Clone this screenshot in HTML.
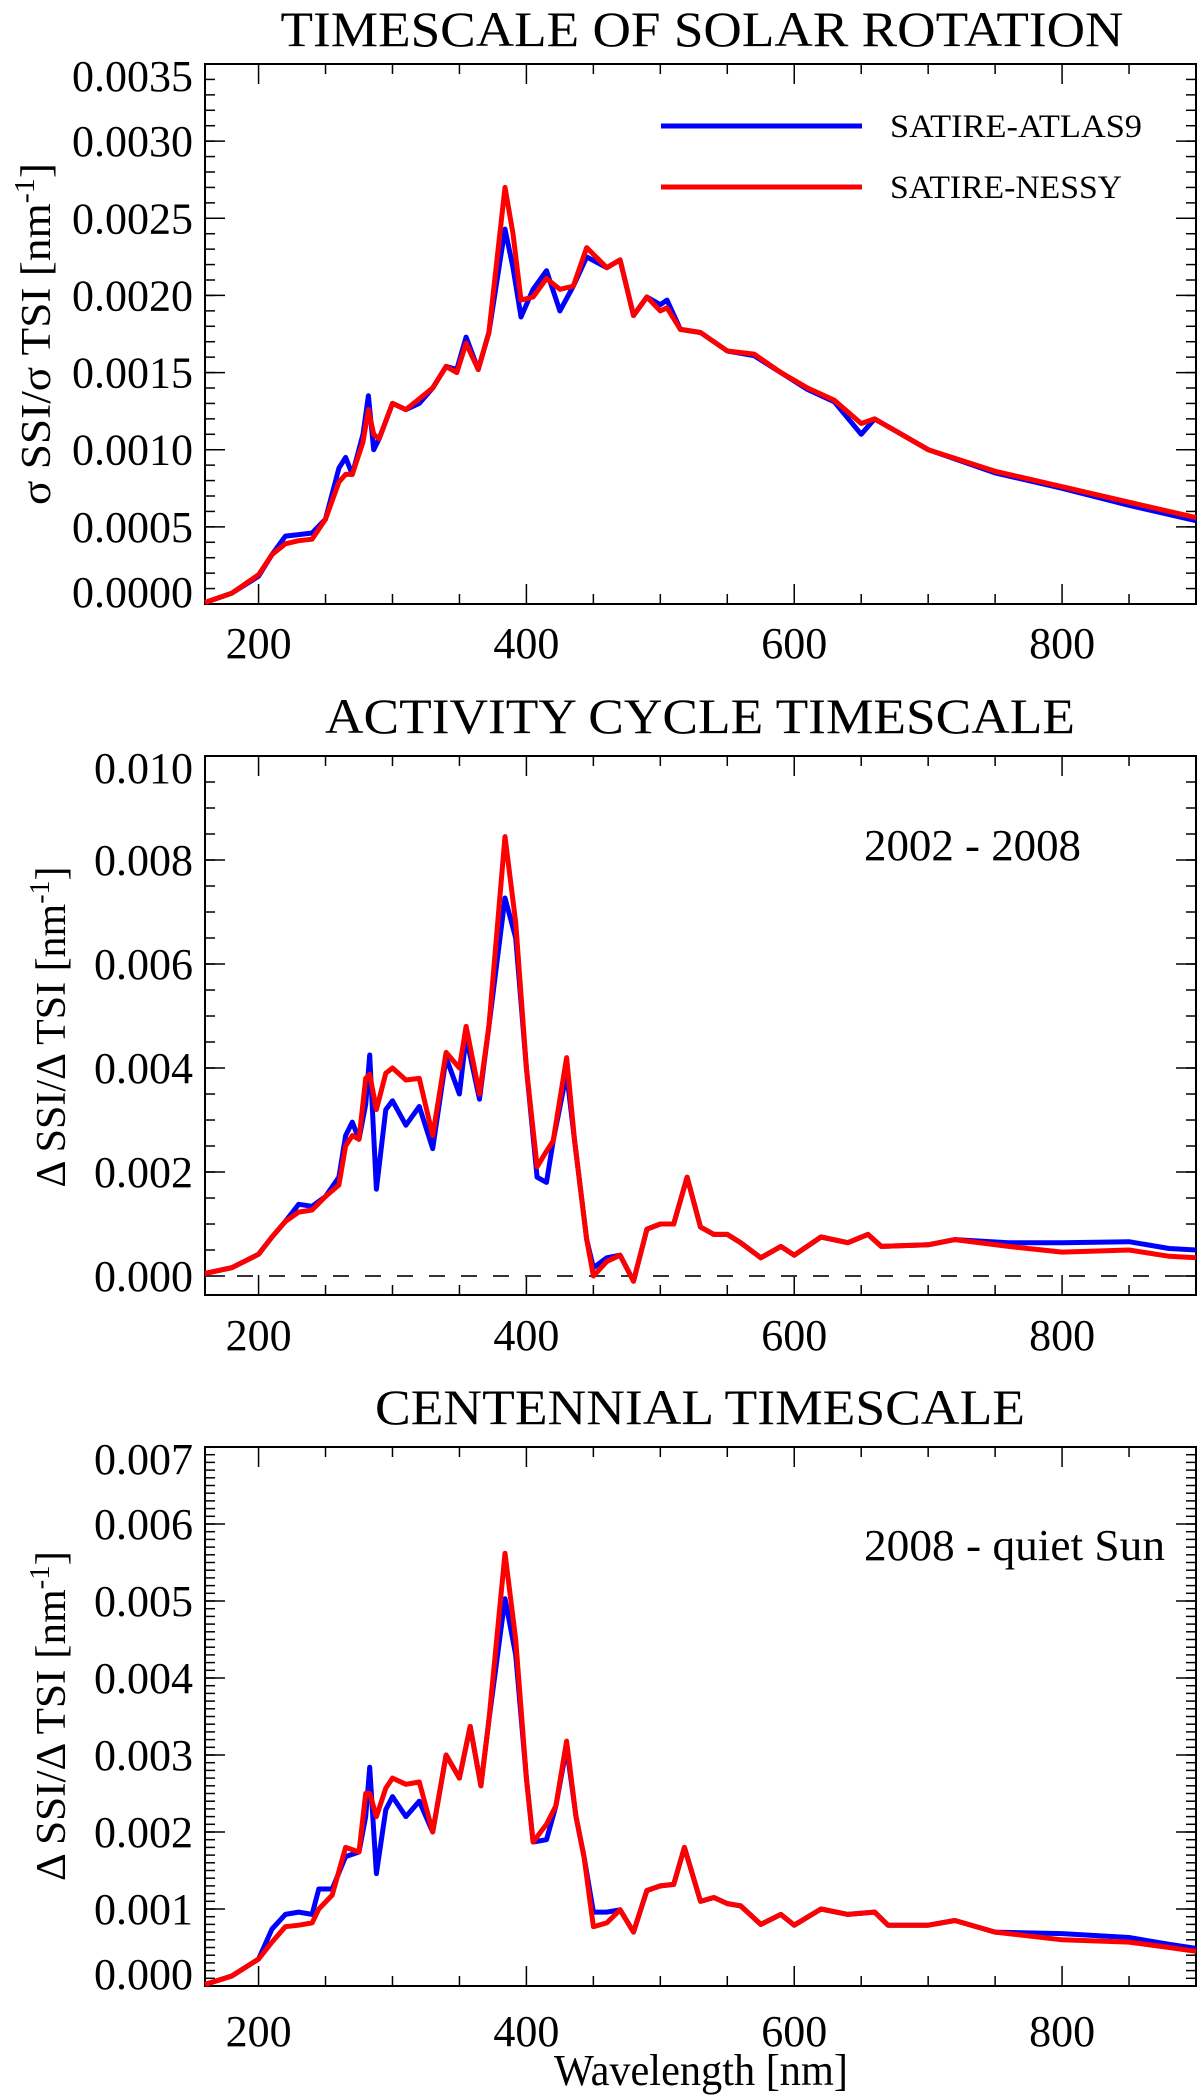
<!DOCTYPE html>
<html><head><meta charset="utf-8">
<style>
html,body{margin:0;padding:0;background:#fff;}
svg{display:block;}
text{font-family:"Liberation Serif","DejaVu Serif",serif;fill:#000;}
</style></head>
<body>
<svg id="fig" width="1200" height="2099" viewBox="0 0 1200 2099" xmlns="http://www.w3.org/2000/svg">
  <text x="702" y="46" font-size="50" text-anchor="middle" textLength="843" lengthAdjust="spacingAndGlyphs">TIMESCALE OF SOLAR ROTATION</text>
  <text x="700" y="733" font-size="50" text-anchor="middle" textLength="750" lengthAdjust="spacingAndGlyphs">ACTIVITY CYCLE TIMESCALE</text>
  <text x="700" y="1424" font-size="50" text-anchor="middle" textLength="650" lengthAdjust="spacingAndGlyphs">CENTENNIAL TIMESCALE</text>

  <text transform="translate(50,334) rotate(-90)" font-size="42" text-anchor="middle" textLength="342" lengthAdjust="spacingAndGlyphs">σ SSI/σ TSI [nm<tspan dy="-16" font-size="28">-1</tspan><tspan dy="16">]</tspan></text>
  <text transform="translate(65,1027) rotate(-90)" font-size="42" text-anchor="middle" textLength="321" lengthAdjust="spacingAndGlyphs">Δ SSI/Δ TSI [nm<tspan dy="-16" font-size="28">-1</tspan><tspan dy="16">]</tspan></text>
  <text transform="translate(65,1716) rotate(-90)" font-size="42" text-anchor="middle" textLength="330" lengthAdjust="spacingAndGlyphs">Δ SSI/Δ TSI [nm<tspan dy="-16" font-size="28">-1</tspan><tspan dy="16">]</tspan></text>

  <line x1="661" y1="126" x2="862" y2="126" stroke="#0000ff" stroke-width="5"/>
  <line x1="661" y1="187" x2="862" y2="187" stroke="#ff0000" stroke-width="5"/>
  <text x="890" y="137" font-size="33" textLength="252" lengthAdjust="spacingAndGlyphs">SATIRE-ATLAS9</text>
  <text x="890" y="198" font-size="33" textLength="232" lengthAdjust="spacingAndGlyphs">SATIRE-NESSY</text>

  <text x="864" y="860" font-size="44" textLength="217" lengthAdjust="spacingAndGlyphs">2002 - 2008</text>
  <text x="864" y="1560" font-size="44" textLength="301" lengthAdjust="spacingAndGlyphs">2008 - quiet Sun</text>

  <text x="701" y="2085" font-size="44" text-anchor="middle" textLength="294" lengthAdjust="spacingAndGlyphs">Wavelength [nm]</text>
  <g id="plots"></g>
</svg>
<script>
// Wavelength grids (nm) and series values (units of 1e-4 nm^-1)
const wl1 = [160,180,200,210,220,230,240,250,260,265,270,278,282,286,290,300,310,320,330,340,348,355,364,372,384,390,396,405,415,425,435,445,460,470,480,490,500,505,515,530,550,570,590,610,630,650,660,700,750,800,850,900];
const atlas1 = [0.1,0.7,1.8,3.2,4.4,4.5,4.6,5.5,8.8,9.5,8.4,11,13.5,10,10.7,13,12.6,13.0,14,15.4,15.2,17.3,15.2,17.6,24.3,21.8,18.6,20.4,21.6,19.0,20.6,22.5,21.8,22.3,18.7,19.9,19.4,19.7,17.8,17.6,16.4,16.1,15.0,13.9,13.1,11.0,12.0,10.0,8.5,7.5,6.4,5.4];
const nessy1 = [0.1,0.7,1.9,3.2,3.9,4.1,4.2,5.5,7.9,8.4,8.4,10.5,12.6,11,10.7,13,12.6,13.3,14,15.4,15,16.9,15.2,17.6,27,24,19.7,19.9,21.1,20.4,20.6,23.1,21.8,22.3,18.7,19.9,19.0,19.2,17.8,17.6,16.4,16.2,15.0,14.0,13.2,11.7,12.0,10.0,8.6,7.6,6.6,5.6];

const wl2 = [160,180,200,210,220,230,240,250,260,265,270,275,280,283,288,295,300,310,320,330,340,350,355,365,372,384,392,400,408,415,420,430,436,445,450,460,470,480,490,500,510,520,530,540,550,560,575,590,600,620,640,655,665,700,720,760,800,850,880,900];
const atlas2 = [0.5,1.6,4.2,7.5,10.5,13.8,13.4,15.3,19,27,29.6,26.3,33,42.5,16.7,32,33.7,29,32.6,24.5,42,35,46,34,48,72.7,65,40,19,18,26,39,26,7,1.6,3.5,4,-1,9,10,10,19,9.4,8,8,6.4,3.5,5.7,4,7.5,6.4,8,5.7,6,7,6.4,6.4,6.6,5.3,5];
const nessy2 = [0.5,1.6,4.2,7.5,10.5,12.3,12.7,15.3,17.5,25,27,26.3,38,38.8,32,39,40,37.7,38,27,43,40,48,35,48,84.5,68,40,21,24,26,42,26,7,0,2.8,4,-1,9,10,10,19,9.4,8,8,6.4,3.5,5.7,4,7.5,6.4,8,5.7,6,7,5.7,4.6,5,3.8,3.5];

const wl3 = [160,180,200,210,220,230,240,245,255,265,275,280,283,288,295,300,310,320,330,340,350,358,366,372,384,392,400,405,415,422,430,437,443,450,460,470,480,490,500,510,518,530,540,550,560,575,590,600,620,640,660,670,700,720,750,800,850,880,900];
const atlas3 = [0.2,1.3,3.5,7.4,9.3,9.6,9.3,12.6,12.6,16.8,17.4,22,28.4,14.6,22.9,24.6,22,24,20,30,27,33.7,26,34.5,50.3,43,27,18.7,19,23.4,31,22,16.8,9.6,9.6,9.9,7,12.4,13,13.2,18,11,11.5,10.7,10.4,8,9.3,7.9,10,9.3,9.6,7.9,7.9,8.5,7,6.8,6.3,5.4,4.9];
const nessy3 = [0.2,1.3,3.5,5.7,7.7,7.9,8.2,10,11.8,18,17.4,25,25,22,25.7,27,26.2,26.5,20,30,27,33.7,26,34.5,56.2,45,27,18.7,21,23.4,31.8,22,16.8,7.7,8.2,9.9,7,12.4,13,13.2,18,11,11.5,10.7,10.4,8,9.3,7.9,10,9.3,9.6,7.9,7.9,8.5,7,6,5.7,5,4.5];

const xTickValues = [200,400,600,800];
const yTicks1 = [0,5,10,15,20,25,30,35];
const yLabels1 = ["0.0000","0.0005","0.0010","0.0015","0.0020","0.0025","0.0030","0.0035"];
const yTicks2 = [0,20,40,60,80,100];
const yLabels2 = ["0.000","0.002","0.004","0.006","0.008","0.010"];
const yTicks3 = [0,10,20,30,40,50,60,70];
const yLabels3 = ["0.000","0.001","0.002","0.003","0.004","0.005","0.006","0.007"];

const NS = "http://www.w3.org/2000/svg";
const root = document.getElementById('plots');
const X0 = 205, X1 = 1196, WMIN = 160, WMAX = 900;
function xs(w){ return X0 + (w - WMIN) * (X1 - X0) / (WMAX - WMIN); }

function mk(tag, attrs, parent){
  const e = document.createElementNS(NS, tag);
  for (const k in attrs) e.setAttribute(k, attrs[k]);
  (parent || root).appendChild(e);
  return e;
}

function panel(id, top, bottom, ymin, ymax, minorStep, majorTicks, majorLabels, series, zeroLine, labelX){
  const g = mk('g', {});
  
  
  const ys = v => bottom - (v - ymin) * (bottom - top) / (ymax - ymin);
  const fr = mk('rect', {x:X0, y:top, width:X1-X0, height:bottom-top, fill:'none', stroke:'#000', 'stroke-width':2}, g);
  
  
  for (let w = 200; w <= 900; w += 50){
    const x = xs(w), L = (w % 200 === 0) ? 20 : 10;
    mk('line', {x1:x, y1:bottom, x2:x, y2:bottom-L, stroke:'#000', 'stroke-width':1.5}, g);
    mk('line', {x1:x, y1:top, x2:x, y2:top+L, stroke:'#000', 'stroke-width':1.5}, g);
  }
  const start = Math.ceil(ymin / minorStep) * minorStep;
  for (let v = start; v <= ymax + 1e-9; v += minorStep){
    const y = ys(v);
    mk('line', {x1:X0, y1:y, x2:X0+10, y2:y, stroke:'#000', 'stroke-width':1.5}, g);
    mk('line', {x1:X1, y1:y, x2:X1-10, y2:y, stroke:'#000', 'stroke-width':1.5}, g);
  }
  majorTicks.forEach((v, i) => {
    const y = ys(v);
    mk('line', {x1:X0, y1:y, x2:X0+20, y2:y, stroke:'#000', 'stroke-width':1.5}, g);
    mk('line', {x1:X1, y1:y, x2:X1-20, y2:y, stroke:'#000', 'stroke-width':1.5}, g);
    let ly = y + 15;
    if (Math.abs(y - bottom) < 3) ly -= 12;
    if (Math.abs(y - top) < 3) ly += 12;
    const t = mk('text', {x:193, y:ly, 'font-size':44, 'text-anchor':'end'}, g);
    t.textContent = majorLabels[i];
    
    
  });
  xTickValues.forEach(w => {
    const t = mk('text', {x:xs(w), y:labelX, 'font-size':44, 'text-anchor':'middle'}, g);
    t.textContent = String(w);
    
    
  });
  if (zeroLine){
    const z = mk('line', {x1:X0, y1:ys(0), x2:X1, y2:ys(0), stroke:'#333', 'stroke-width':2, 'stroke-dasharray':'16,16'}, g);
    
    
  }
  series.forEach(s => {
    const d = s.wl.map((w, i) => (i ? 'L' : 'M') + xs(w).toFixed(1) + ',' + ys(s.v[i]).toFixed(1)).join(' ');
    const p = mk('path', {d:d, fill:'none', stroke:s.color, 'stroke-width':5, 'stroke-linejoin':'round'}, g);
    
    
  });
}

panel('rotation', 64, 604, 0, 35, 1, yTicks1, yLabels1,
  [{wl:wl1, v:atlas1, color:'#0000ff', name:'atlas9'}, {wl:wl1, v:nessy1, color:'#ff0000', name:'nessy'}], false, 658);
panel('activity', 756, 1295, -3.65, 100, 5, yTicks2, yLabels2,
  [{wl:wl2, v:atlas2, color:'#0000ff', name:'atlas9'}, {wl:wl2, v:nessy2, color:'#ff0000', name:'nessy'}], true, 1350);
panel('centennial', 1447, 1986, 0, 70, 1, yTicks3, yLabels3,
  [{wl:wl3, v:atlas3, color:'#0000ff', name:'atlas9'}, {wl:wl3, v:nessy3, color:'#ff0000', name:'nessy'}], false, 2046);
</script>
</body></html>
